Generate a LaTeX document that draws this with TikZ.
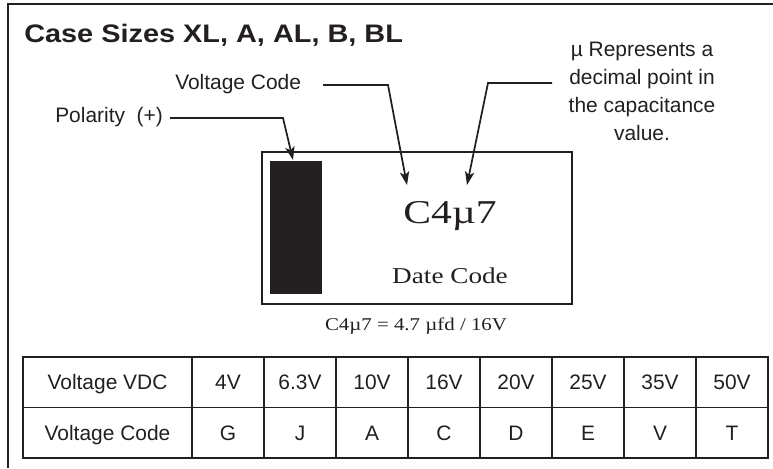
\documentclass[tikz,border=0pt]{standalone}
\usepackage{fontspec}
\usepackage{graphicx}
\setmainfont{Liberation Serif}
\setsansfont{Liberation Sans}
\usetikzlibrary{arrows.meta}
\definecolor{ink}{RGB}{35,31,32}
\begin{document}
\begin{tikzpicture}[x=0.75pt,y=-0.75pt,
  lbl/.style={font=\sffamily\fontsize{15.7}{21}\selectfont, inner sep=0pt, text=ink},
  conn/.style={draw=ink, line width=1.3pt, -{Stealth[length=10pt,width=7pt,inset=2.5pt]}},
  cell/.style={draw=ink, line width=1.2pt, inner sep=0pt, minimum height=37.875pt,
    text height=11.25pt, text depth=0pt, font=\sffamily\fontsize{15.7}{21}\selectfont, text=ink},
  serif/.style={inner sep=0pt, text=ink}]
\useasboundingbox (0,0) rectangle (773,468);
% outer frame (cropped)
\draw[ink, line width=1.6pt] (8,468) -- (8,4) -- (773,4);
% title
\node[anchor=base west, inner sep=0pt, text=ink, font=\sffamily\bfseries\fontsize{19}{23}\selectfont] (title) at (24,42)
  {\scalebox{1.14}[1]{Case Sizes XL, A, AL, B, BL}};
% labels
\node[lbl, anchor=base west] (vc) at (175,89) {Voltage Code};
\node[lbl, anchor=base west] (pol) at (55,122) {Polarity\ \ (+)};
\node[lbl, anchor=base] (mu1) at (642,56) {µ Represents a};
\node[lbl, anchor=base] (mu2) at (642,84) {decimal point in};
\node[lbl, anchor=base] (mu3) at (642,112) {the capacitance};
\node[lbl, anchor=base] (mu4) at (642,140) {value.};
% case body
\node[draw=ink, line width=1.5pt, inner sep=0pt, minimum width=232.5pt, minimum height=114pt] (box) at (417,228) {};
\node[fill=ink, inner sep=0pt, minimum width=39pt, minimum height=99.75pt] (band) at (296,227.5) {};
\node[serif, anchor=base, font=\fontsize{25}{30}\selectfont] (code) at (450,223) {\scalebox{1.25}[1]{C4µ7}};
\node[serif, anchor=base, font=\fontsize{17}{20}\selectfont] (date) at (450,283) {\scalebox{1.2}[1]{Date Code}};
\node[serif, anchor=base, font=\fontsize{13.5}{16}\selectfont] (eq) at (416,330) {\scalebox{1.16}[1]{C4µ7 = 4.7 µfd / 16V}};
% connector points
\coordinate (vcs) at (323,85);
\coordinate (vcc) at (388,85);
\coordinate (vct) at (407,185);
\coordinate (pols) at (170,118);
\coordinate (polc) at (283,118);
\coordinate (polt) at (293,160);
\coordinate (mus) at (552,83);
\coordinate (muc) at (488,83);
\coordinate (mut) at (467,185);
\draw[conn] (pols) -- (polc) -- (polt);
\draw[conn] (vcs) -- (vcc) -- (vct);
\draw[conn] (mus) -- (muc) -- (mut);
% table
\node[cell, minimum width=126.75pt] (h1) at (107.5,382.25) {Voltage VDC};
\node[cell, minimum width=126.75pt] (h2) at (107.5,432.75) {Voltage Code};
\foreach \v/\c [count=\i from 0] in {4V/G, 6.3V/J, 10V/A, 16V/C, 20V/D, 25V/E, 35V/V, 50V/T}{
  \node[cell, minimum width=54pt] (v\i) at ({228+72*\i},382.25) {\v};
  \node[cell, minimum width=54pt] (c\i) at ({228+72*\i},432.75) {\c};
}
\end{tikzpicture}
\end{document}
